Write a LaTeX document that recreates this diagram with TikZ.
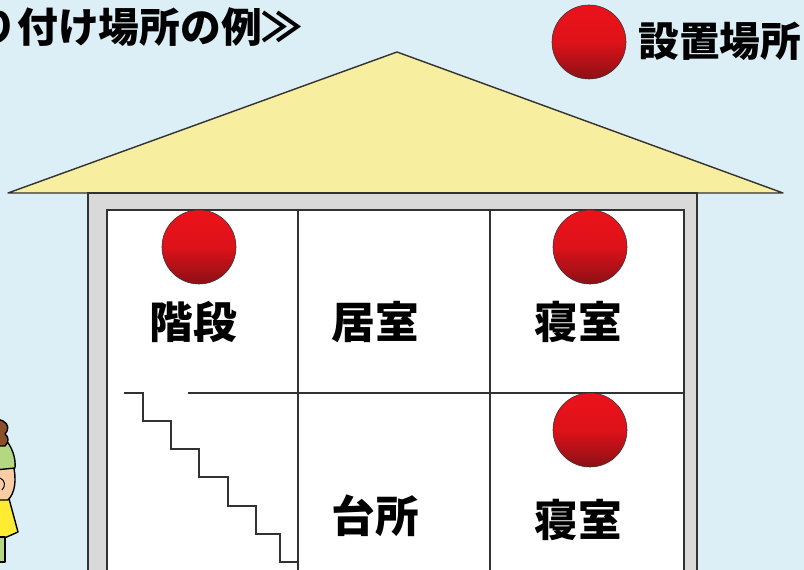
\documentclass[tikz,border=0pt]{standalone}
\usepackage{fontspec}
\newfontfamily\jp{Noto Sans CJK JP}
\definecolor{sky}{RGB}{221,239,246}
\definecolor{roofyellow}{RGB}{248,238,160}
\definecolor{wallgray}{RGB}{217,217,217}
\definecolor{edge}{RGB}{50,50,50}
\definecolor{alarmtop}{RGB}{236,18,26}
\definecolor{alarmbot}{RGB}{140,16,22}
\definecolor{hair}{RGB}{140,80,40}
\definecolor{shirt}{RGB}{180,215,130}
\definecolor{skin}{RGB}{250,205,165}
\definecolor{skirt}{RGB}{255,236,50}
\tikzset{
  alarm/.style={circle, minimum size=1.85cm, inner sep=0pt, draw=black!80, thin,
    top color=alarmtop, bottom color=alarmbot, middle color=alarmtop!85!alarmbot},
  room/.style={font=\jp\bfseries\fontsize{31}{31}\selectfont, inner sep=0pt},
  caption/.style={font=\jp\bfseries\fontsize{29}{29}\selectfont, inner sep=0pt},
  roomline/.style={draw=edge, line width=1.4pt},
  kid/.style={draw=black, line width=1pt, line join=round}
}
\begin{document}
\begin{tikzpicture}[x=0.025cm, y=-0.025cm]
\fill[sky] (0,0) rectangle (804,570);
\useasboundingbox (0,0) rectangle (804,570);
\clip (0,0) rectangle (804,570);

% roof
\coordinate (apex) at (397,52);
\coordinate (eaveL) at (8,193);
\coordinate (eaveR) at (783,193);
\filldraw[fill=roofyellow, draw=edge, line width=1pt, line join=round] (apex) -- (eaveR) -- (eaveL) -- cycle;

% walls and rooms
\filldraw[fill=wallgray, draw=edge, line width=1pt] (88,193) rectangle (697,590);
\filldraw[fill=white, draw=edge, line width=1.6pt] (107,210) rectangle (684,590);
\coordinate (A) at (298,210);
\coordinate (B) at (490,210);
\draw[roomline] (A) -- (298,590);
\draw[roomline] (B) -- (490,590);
\draw[roomline] (188,393) -- (684,393);

% stairs
\draw[roomline] (124,393) -- (143,393) -- (143,421) -- (171,421) -- (171,449) -- (199,449)
  -- (199,477) -- (228,477) -- (228,506) -- (256,506) -- (256,534) -- (280,534)
  -- (280,562) -- (298,562);

% alarms
\node[alarm] (S1) at (199,247) {};
\node[alarm] (S2) at (590,247) {};
\node[alarm] (S3) at (590,430) {};
\node[alarm] (S0) at (589,42) {};

% labels
\node[room] (R1) at (193,322) {階段};
\node[room] (R2) at (375,322) {居室};
\node[room] (R3) at (578,322) {寝室};
\node[room] (R4) at (375,516) {台所};
\node[room] (R5) at (578,520) {寝室};
\node[caption, anchor=west] (L0) at (638,41) {設置場所};
\node[caption, anchor=east] (T0) at (303,27) {り付け場所の例≫};

% girl at the left edge
\filldraw[kid, fill=skirt] (-5,495) -- (8,495) -- (18,532) -- (0,540) -- (-5,540) -- cycle;
\filldraw[kid, fill=shirt] (-5,537) -- (5,537) -- (5,562) -- (-5,562) -- cycle;
\filldraw[kid, fill=skin] (-5,462) -- (13,464) .. controls (17,480) and (15,493) .. (8,500) -- (-5,500) -- cycle;
\draw[kid, line width=0.7pt] (0,478) .. controls (5,480) and (6,486) .. (2,490);
\filldraw[kid, fill=shirt] (-5,438) -- (4,438) .. controls (12,446) and (16,458) .. (15,468) -- (-5,470) -- cycle;
\filldraw[kid, fill=hair] (-5,418) -- (3,421) .. controls (9,424) and (9,430) .. (5,434)
  .. controls (9,437) and (9,442) .. (5,446) -- (-5,446) -- cycle;
\end{tikzpicture}
\end{document}
